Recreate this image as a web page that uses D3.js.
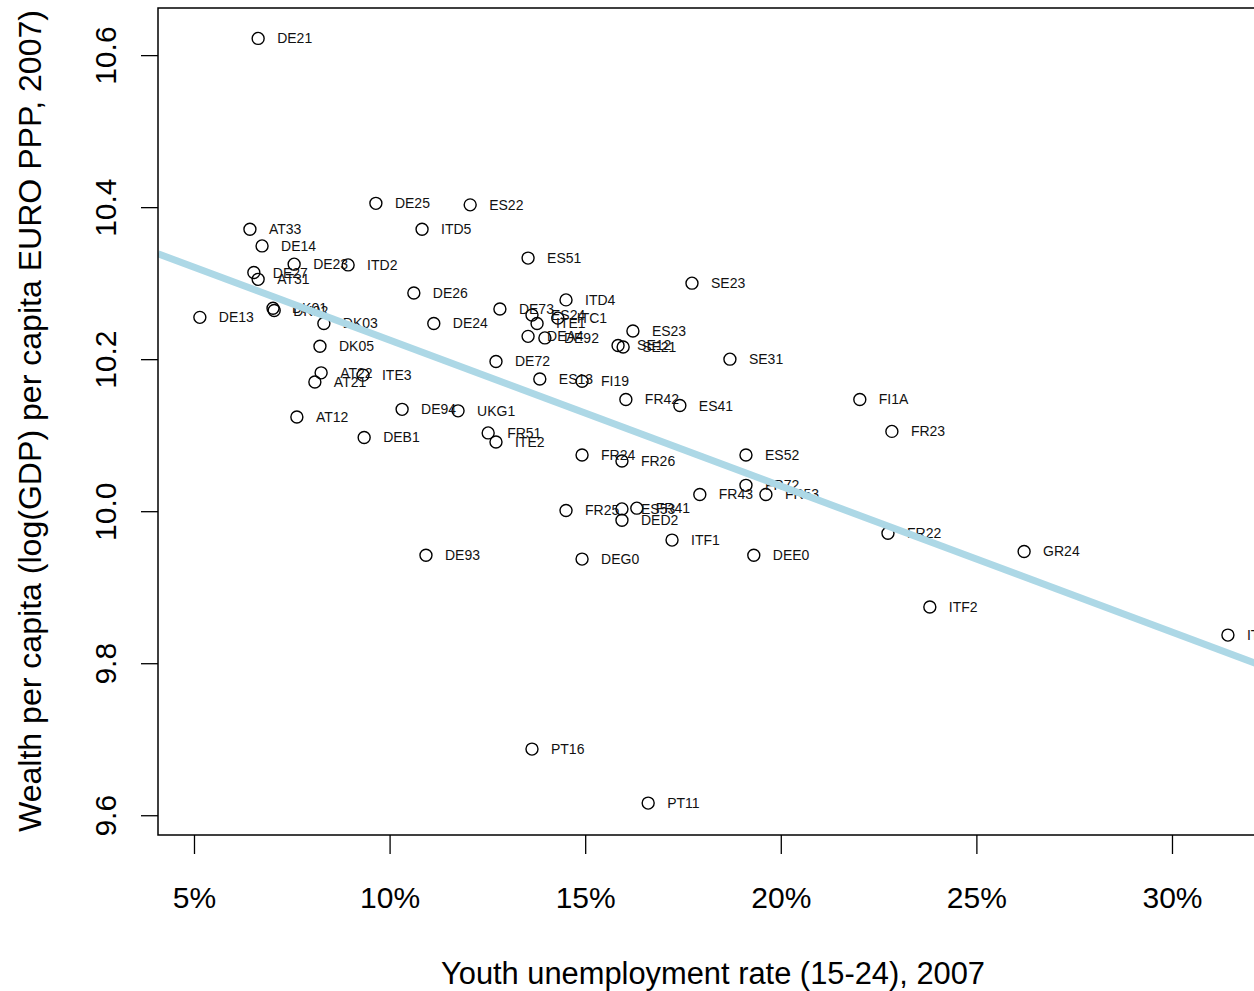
<!DOCTYPE html>
<html>
<head>
<meta charset="utf-8">
<script src="https://cdn.jsdelivr.net/npm/d3@7"></script>
<style>
  html, body { margin: 0; padding: 0; background: #fff; }
  svg { display: block; font-family: "Liberation Sans", Arial, sans-serif; }
</style>
</head>
<body>
<svg id="chart" width="1254" height="991"></svg>
<script>
// NUTS-2 regions: youth unemployment rate (%, 15-24) and log GDP per capita (EUR PPP), 2007
const regions = ["DE21","DE25","ES22","AT33","ITD5","DE14","ES51","DE23","ITD2","DE27",
  "AT31","SE23","DE26","ITD4","DK01","DK02","DE73","DE24","DK03","ES24",
  "ITE1","ITC1","DE13","ES23","DEA4","DE92","SE12","SE21","DK05","SE31",
  "DE72","ES13","FI19","AT22","AT21","ITE3","FR42","ES41","FI1A","DE94",
  "UKG1","AT12","FR23","FR51","ITE2","DEB1","FR24","FR26","ES52","FR72",
  "FR53","FR43","FR25","ES53","FR41","DED2","ITF1","DE93","DEG0","DEE0",
  "FR22","GR24","ITF2","ITF3","PT16","PT11"];

const youthUnemployment = [6.64,9.65,12.06,6.43,10.83,6.74,13.54,7.56,8.94,6.53,
  6.64,17.73,10.62,14.51,7.02,7.05,12.82,11.13,8.32,13.64,
  13.77,14.30,5.15,16.22,13.54,13.97,15.84,15.97,8.22,18.70,
  12.72,13.84,14.92,8.25,8.09,9.32,16.04,17.42,22.02,10.32,
  11.75,7.63,22.84,12.52,12.72,9.35,14.92,15.94,19.11,19.11,
  19.62,17.93,14.51,15.94,16.32,15.94,17.22,10.93,14.92,19.31,
  22.74,26.22,23.81,31.43,13.64,16.61];

const logGdp = [10.622,10.405,10.403,10.371,10.371,10.349,10.333,10.325,10.324,10.314,
  10.305,10.300,10.287,10.278,10.267,10.264,10.266,10.247,10.247,10.258,
  10.247,10.254,10.255,10.237,10.230,10.228,10.218,10.216,10.217,10.200,
  10.197,10.174,10.171,10.182,10.170,10.179,10.147,10.139,10.147,10.134,
  10.132,10.124,10.105,10.103,10.091,10.097,10.074,10.066,10.074,10.034,
  10.022,10.022,10.001,10.003,10.004,9.988,9.962,9.942,9.937,9.942,
  9.971,9.947,9.874,9.837,9.687,9.616];

const xTicks = [5, 10, 15, 20, 25, 30];
const yTicks = [9.6, 9.8, 10.0, 10.2, 10.4, 10.6];

// fitted linear trend: logGdp = intercept + slope * rate
const trendIntercept = 10.417;
const trendSlope = -0.0192;

const svg = d3.select("#chart");
const plot = { left: 158, top: 8, bottom: 835, right: 1269 };

const x = d3.scaleLinear().domain([4.08, 32.48]).range([plot.left, plot.right]);
const y = d3.scaleLinear().domain([9.574, 10.662]).range([plot.bottom, plot.top]);

svg.append("defs").append("clipPath").attr("id", "plotClip")
  .append("rect")
  .attr("x", plot.left).attr("y", plot.top)
  .attr("width", plot.right - plot.left).attr("height", plot.bottom - plot.top);

const rows = regions.map((r, i) => ({ r, u: youthUnemployment[i], g: logGdp[i] }));

const body = svg.append("g").attr("clip-path", "url(#plotClip)");

// points
body.append("g").selectAll("circle").data(rows).join("circle")
  .attr("cx", d => x(d.u)).attr("cy", d => y(d.g)).attr("r", 6)
  .attr("fill", "none").attr("stroke", "#000").attr("stroke-width", 1.4);

// region labels
body.append("g").selectAll("text").data(rows).join("text")
  .attr("x", d => x(d.u) + 19).attr("y", d => y(d.g) + 5)
  .attr("font-size", 14).attr("fill", "#111")
  .text(d => d.r);

// trend line
const xd = x.domain();
body.append("line")
  .attr("x1", x(xd[0])).attr("y1", y(trendIntercept + trendSlope * xd[0]))
  .attr("x2", x(xd[1])).attr("y2", y(trendIntercept + trendSlope * xd[1]))
  .attr("stroke", "#add8e6").attr("stroke-width", 7);

// frame
svg.append("rect")
  .attr("x", plot.left).attr("y", plot.top)
  .attr("width", plot.right - plot.left).attr("height", plot.bottom - plot.top)
  .attr("fill", "none").attr("stroke", "#000").attr("stroke-width", 1.5);

// x axis
const xAxis = svg.append("g").attr("transform", `translate(0,${plot.bottom})`)
  .call(d3.axisBottom(x).tickValues(xTicks).tickFormat(d => d + "%").tickSize(19).tickSizeOuter(0));
xAxis.select(".domain").remove();
xAxis.selectAll(".tick line").attr("stroke", "#000").attr("stroke-width", 1.3);
xAxis.selectAll(".tick text")
  .attr("y", 0).attr("dy", 0)
  .attr("transform", "translate(0,73)")
  .attr("font-size", 30).attr("fill", "#000")
  .attr("font-family", "Liberation Sans, Arial, sans-serif");

// y axis
const yAxis = svg.append("g").attr("transform", `translate(${plot.left},0)`)
  .call(d3.axisLeft(y).tickValues(yTicks).tickFormat(d3.format(".1f")).tickSize(17).tickSizeOuter(0));
yAxis.select(".domain").remove();
yAxis.selectAll(".tick line").attr("stroke", "#000").attr("stroke-width", 1.3);
yAxis.selectAll(".tick text")
  .attr("x", 0).attr("dy", 0).attr("y", 0)
  .attr("text-anchor", "middle")
  .attr("transform", "translate(-53,0) rotate(-90) translate(0,11)")
  .attr("font-size", 30).attr("fill", "#000")
  .attr("font-family", "Liberation Sans, Arial, sans-serif");

// axis titles
svg.append("text")
  .attr("x", 713).attr("y", 984)
  .attr("text-anchor", "middle").attr("font-size", 31).attr("fill", "#000")
  .attr("textLength", 544).attr("lengthAdjust", "spacingAndGlyphs")
  .text("Youth unemployment rate (15-24), 2007");

svg.append("text")
  .attr("transform", "translate(41,421) rotate(-90)")
  .attr("text-anchor", "middle").attr("font-size", 31).attr("fill", "#000")
  .attr("textLength", 822).attr("lengthAdjust", "spacingAndGlyphs")
  .text("Wealth per capita (log(GDP) per capita EURO PPP, 2007)");
</script>
</body>
</html>
